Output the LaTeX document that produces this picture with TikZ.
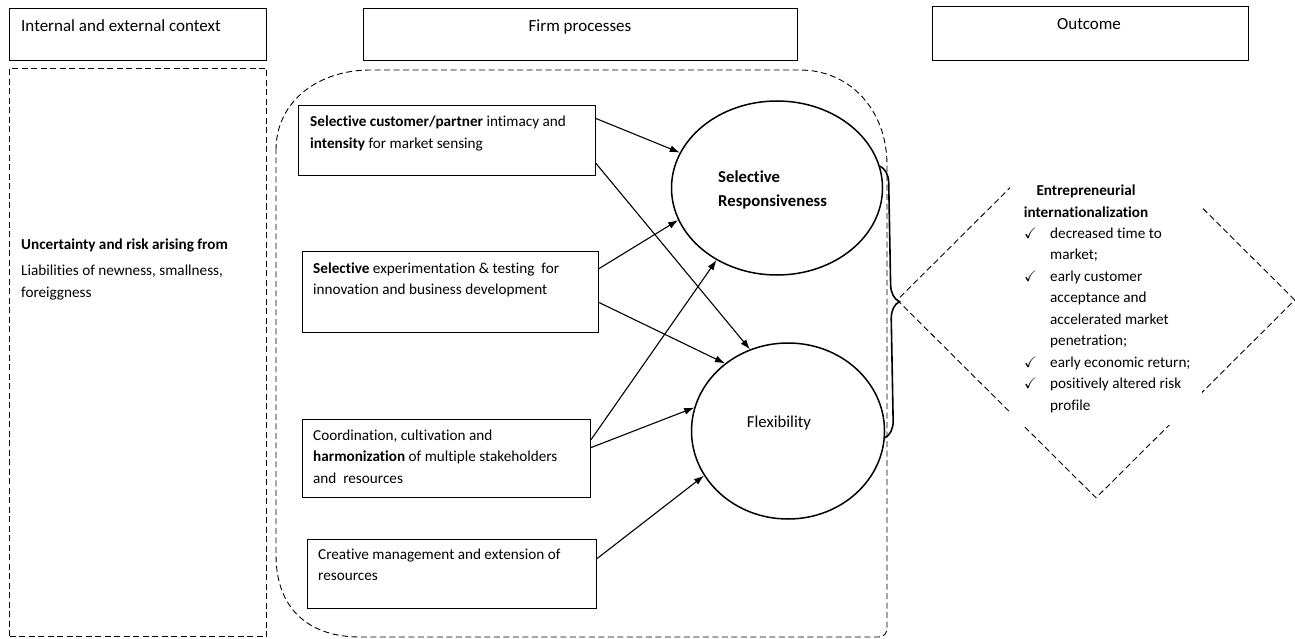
\documentclass[tikz,border=0pt]{standalone}
\usepackage{amssymb}
\usepackage{fontspec}
\setmainfont{Carlito}[Ligatures=NoCommon]
\usetikzlibrary{arrows.meta,shapes.geometric,decorations.pathreplacing,positioning}

\begin{document}
\begin{tikzpicture}[x=1pt,y=-1pt,
  hbox/.style={draw, line width=0.9pt, inner sep=0pt, anchor=north west},
  pbox/.style={draw, line width=1.1pt, inner sep=0pt, anchor=north west},
  txt/.style={inner sep=0pt, align=left, anchor=base west, font=\fontsize{15.2}{21.5}\selectfont},
  htxt/.style={txt, font=\fontsize{17}{21.5}\selectfont},
  oval/.style={draw, ellipse, line width=1.5pt, inner sep=0pt},
  arr/.style={-{Latex[length=10pt,width=7pt]}, line width=1.1pt},
  dashline/.style={line width=1pt, dash pattern=on 6pt off 3.5pt}]
  \useasboundingbox (0,0) rectangle (1295,639);

  % column headers
  \node[hbox, minimum width=257pt, minimum height=52pt] (hctx) at (9,8) {};
  \node[hbox, minimum width=434pt, minimum height=52pt] (hfirm) at (363,8) {};
  \node[hbox, minimum width=316pt, minimum height=54pt] (hout) at (932,6) {};
  \node[htxt] (tctx) at (21,32) {Internal and external context};
  \node[htxt, anchor=base] (tfirm) at (580,32) {Firm processes};
  \node[htxt, anchor=base] (tout) at (1089,30) {Outcome};

  % context
  \node[hbox, dashline, minimum width=257pt, minimum height=568pt] (ctx) at (9,68) {};
  \node[txt] (risk) at (21,297)
    {\textbf{Uncertainty and risk arising from}\\[5pt]
     Liabilities of newness, smallness,\\ foreiggness};

  % firm processes
  \draw[dashline, line width=0.9pt] (276,150) .. controls (276,100) and (320,70) .. (370,70)
    -- (800,70) .. controls (850,70) and (887,110) .. (887,165)
    -- (887,628) .. controls (887,633) and (884,637) .. (879,637)
    -- (360,637) .. controls (310,637) and (276,610) .. (276,555) -- cycle;

  \node[pbox, minimum width=297pt, minimum height=70pt] (b1) at (298,105) {};
  \node[pbox, minimum width=296pt, minimum height=81pt] (b2) at (302,251) {};
  \node[pbox, minimum width=288pt, minimum height=78pt] (b3) at (302,419) {};
  \node[pbox, minimum width=289pt, minimum height=69pt] (b4) at (307,539) {};
  \node[txt] (t1) at (310,148.5)
    {\textbf{Selective customer/partner} intimacy and\\ \textbf{intensity} for market sensing};
  \node[txt] (t2) at (313,294.5)
    {\textbf{Selective} experimentation \& testing\ \ for\\ innovation and business development};
  \node[txt] (t3) at (313,483)
    {Coordination, cultivation and\\ \textbf{harmonization} of multiple stakeholders\\ and\ \ resources};
  \node[txt] (t4) at (318,580.5)
    {Creative management and extension of\\ resources};

  \node[oval, minimum width=211pt, minimum height=174pt] (e1) at (777,188) {};
  \node[oval, minimum width=193pt, minimum height=176pt] (e2) at (788,431) {};
  \node[htxt, font=\fontsize{16.7}{24}\selectfont] (te1) at (718,207) {\textbf{Selective}\\ \textbf{Responsiveness}};
  \node[htxt, font=\fontsize{16.7}{24}\selectfont, anchor=base] (te2) at (779,427) {Flexibility};

  \draw[arr] ([yshift=22pt]b1.east) -- (e1.160);
  \draw[arr] ([yshift=-23pt]b1.east) -- (e2.115);
  \draw[arr] ([yshift=23.5pt]b2.east) -- (e1.198);
  \draw[arr] ([yshift=-10.5pt]b2.east) -- (e2.133);
  \draw[arr] ([yshift=19pt]b3.east) -- (e1.230);
  \draw[arr] ([yshift=11pt]b3.east) -- (e2.166);
  \draw[arr] ([yshift=15.5pt]b4.east) -- (e2.208);

  % outcome
  \node[diamond, draw, dashline, line width=0.9pt, minimum width=398pt, minimum height=396pt, inner sep=0pt] (outd) at (1096,300) {};
  \draw[line width=1.6pt, decorate, decoration={brace, amplitude=17pt}] (e1.12) -- (e2.-4);
  \fill[white] (1010,100) rectangle (1202,425);
  \node[txt, align=center, anchor=base] (outt) at (1086,217)
    {\textbf{Entrepreneurial}\\ \textbf{internationalization}};
  \node[txt] (outl) at (1024,410)
    {\makebox[26pt][l]{\checkmark}decreased time to\\
     \hspace*{26pt}market;\\
     \makebox[26pt][l]{\checkmark}early customer\\
     \hspace*{26pt}acceptance and\\
     \hspace*{26pt}accelerated market\\
     \hspace*{26pt}penetration;\\
     \makebox[26pt][l]{\checkmark}early economic return;\\
     \makebox[26pt][l]{\checkmark}positively altered risk\\
     \hspace*{26pt}profile};
\end{tikzpicture}
\end{document}
